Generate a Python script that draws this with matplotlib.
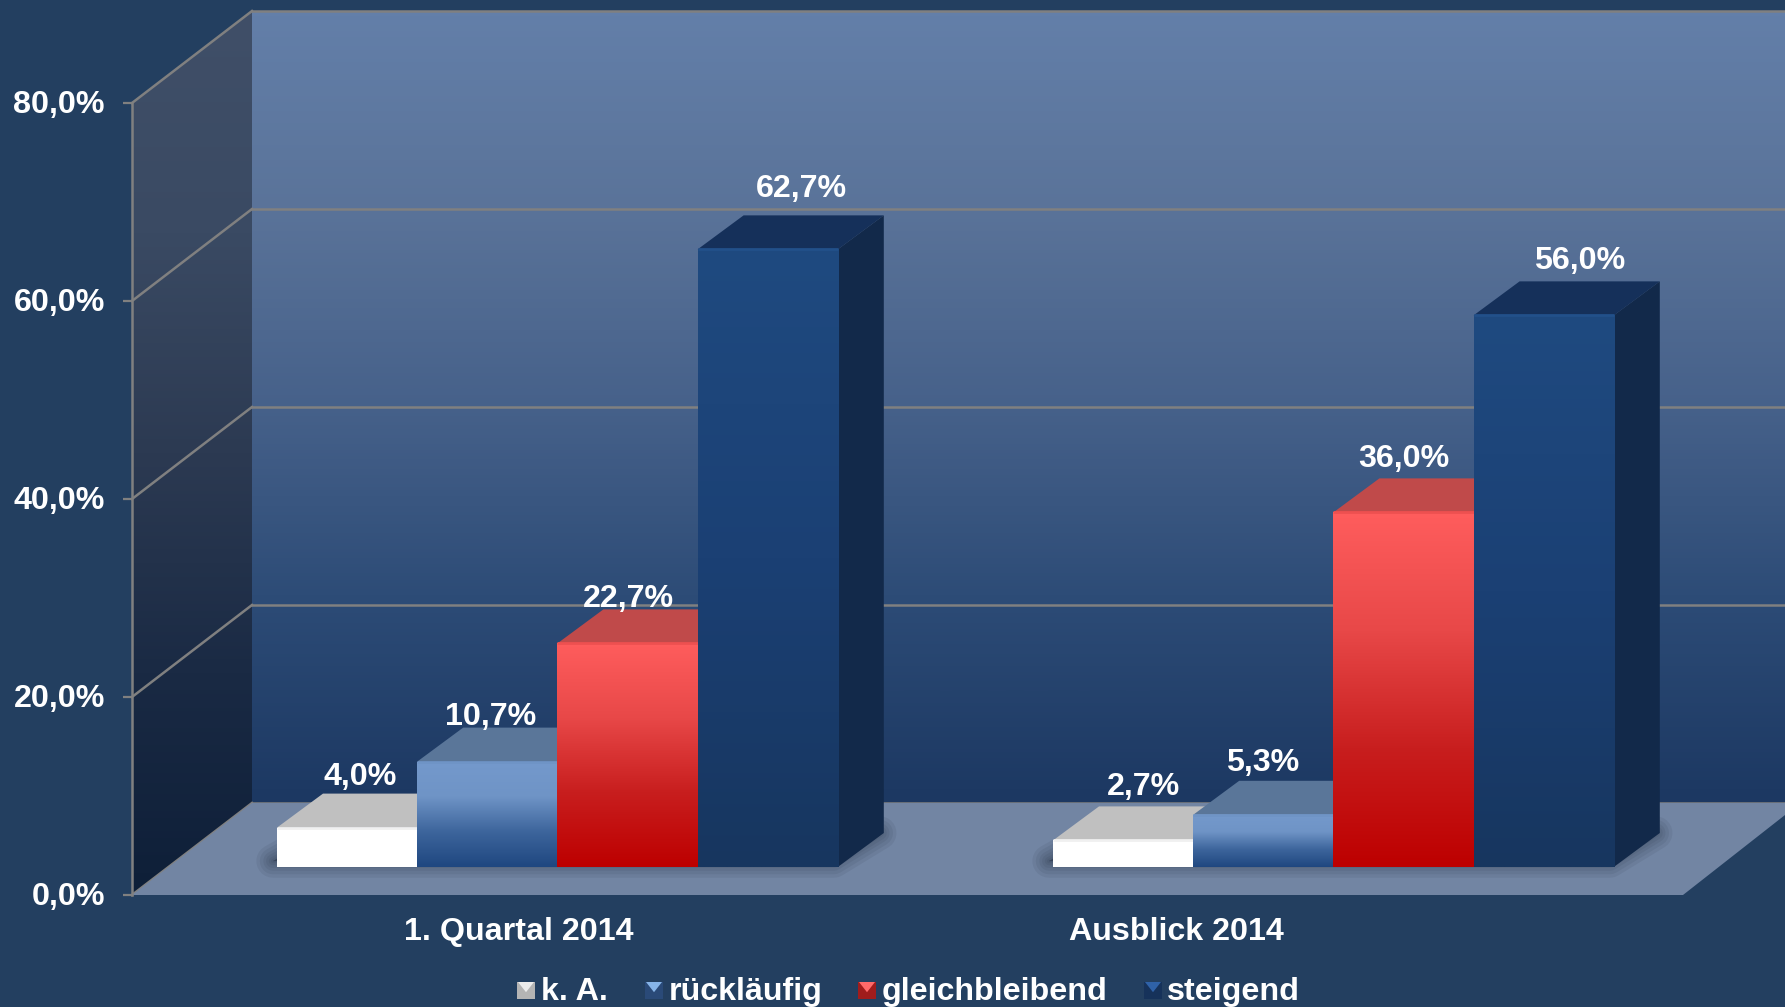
import numpy as np
import matplotlib
matplotlib.use('Agg')
import matplotlib.pyplot as plt
from matplotlib.colors import LinearSegmentedColormap
from matplotlib.patches import Polygon
from matplotlib.transforms import ScaledTranslation

plt.rcParams['font.family'] = ['Liberation Sans', 'DejaVu Sans']
plt.rcParams['font.weight'] = 'bold'

categories = ['1. Quartal 2014', 'Ausblick 2014']
series = ['k. A.', 'rückläufig', 'gleichbleibend', 'steigend']
ka = [4.0, 2.7]
ruecklaeufig = [10.7, 5.3]
gleichbleibend = [22.7, 36.0]
steigend = [62.7, 56.0]
yticks = [0, 20, 40, 60, 80]
ytick_labels = ['0,0%', '20,0%', '40,0%', '60,0%', '80,0%']

BG = '#233f60'
W, H = 1785, 1007
PX = 9.9        # pixels per percent
Y0 = 895        # pixel row of the 0 % tick


def yp(row):
    return (Y0 - row) / PX


def fmt(v):
    return f'{v:.1f}'.replace('.', ',') + '%'


fig = plt.figure(figsize=(W / 100, H / 100), dpi=100, facecolor=BG)
ax = fig.add_axes([0, 0, 1, 1], facecolor=BG)
xlim = (0, W)
ylim = (yp(H), yp(0))


def gradient(patch, stops, extent, zorder=2):
    cmap = LinearSegmentedColormap.from_list('g', stops)
    im = ax.imshow(np.linspace(0, 1, 256)[:, None], cmap=cmap, extent=extent,
                   aspect='auto', origin='upper', zorder=zorder, interpolation='bilinear')
    im.set_clip_path(patch)
    return im


# walls and floor
wall_dx, wall_dy = 120, yp(803)
wall_x = 132 + wall_dx
back = Polygon([(wall_x, wall_dy), (W, wall_dy), (W, 80 + wall_dy), (wall_x, 80 + wall_dy)],
               fc='#1c3862', ec='none', zorder=2)
ax.add_patch(back)
gradient(back, ['#637fa9', '#5a7399', '#46618a', '#2c4b76', '#1c3862'],
         (wall_x, W, wall_dy, 80 + wall_dy))
side = Polygon([(132, 0), (wall_x, wall_dy), (wall_x, 80 + wall_dy), (132, 80)],
               fc='#0e1f38', ec='none', zorder=2)
ax.add_patch(side)
gradient(side, ['#404f68', '#3a4a63', '#2c3a52', '#1a2a44', '#0e1f38'],
         (132, wall_x, 0, 80 + wall_dy))

for t in yticks:
    ax.plot([wall_x, W], [t + wall_dy, t + wall_dy], color='#808080', lw=1.8, zorder=2)
    ax.plot([132, wall_x], [t, t + wall_dy], color='#808080', lw=1.8, zorder=2)

floor = Polygon([(132, 0), (wall_x, wall_dy), (W, wall_dy), (W, yp(815)), (1683, 0)],
                fc='#7285a3', ec='none', zorder=2)
ax.add_patch(floor)

# bars stand a little further back, so they scale slightly smaller than the ticks
bar_w = 140.2
base = yp(867)
bar_scale = 0.995
dep_x, dep_y = 46, 34 / PX
group_x = [277, 1053]
faces = [
    dict(stops=['#ffffff', '#ffffff'], top='#c0c0c0', side='#a0a0a0', edge='#f0f0f0'),
    dict(stops=['#7499cc', '#6f94c6', '#3d659c', '#1f4780'], top='#5a7699', side='#2a4a78', edge='#6f94c6'),
    dict(stops=['#ff5d5d', '#e84848', '#c81e1e', '#bd0000'], top='#c04a4a', side='#8a2020', edge='#ee5050'),
    dict(stops=['#1f4a80', '#1b4074', '#17365f'], top='#15305a', side='#12294a', edge='#22508a'),
]
values = [ka, ruecklaeufig, gleichbleibend, steigend]

for g, gx in enumerate(group_x):
    # soft shadow below the bars
    n = len(series)
    shadow = [(gx - 4, base + 0.6), (gx + n * bar_w - 4, base + 0.6),
              (gx + n * bar_w + dep_x - 4, base + dep_y), (gx + dep_x, base + dep_y)]
    for lw in [24, 19, 14, 10, 6, 3]:
        s = Polygon(shadow, fc='#1a2436', ec='#1a2436', lw=lw, alpha=0.08,
                    joinstyle='round', zorder=2)
        ax.add_patch(s)
        s.set_clip_path(floor)

    for i, vals in enumerate(values):
        v = vals[g] * bar_scale
        x0 = gx + i * bar_w
        x1 = x0 + bar_w
        top_y = base + v
        ax.add_patch(Polygon([(x0, top_y), (x1, top_y), (x1 + dep_x, top_y + dep_y), (x0 + dep_x, top_y + dep_y)],
                             fc=faces[i]['top'], ec='none', zorder=2))
        ax.add_patch(Polygon([(x1, base), (x1 + dep_x, base + dep_y), (x1 + dep_x, top_y + dep_y), (x1, top_y)],
                             fc=faces[i]['side'], ec='none', zorder=2))
        rect = ax.bar(x0, v, width=bar_w, bottom=base, align='edge', color=faces[i]['stops'][-1],
                      edgecolor='none', zorder=2)[0]
        gradient(rect, faces[i]['stops'], (x0, x1, base, top_y))
        ax.plot([x0, x1], [top_y, top_y], color=faces[i]['edge'], lw=2, zorder=2, solid_capstyle='butt')

# data labels, pixel position of each label centre
label_x = [[360, 491, 628, 801], [1143, 1263, 1404, 1580]]
label_row = [[774, 714, 596, 186], [783, 760, 456, 258]]
for g in range(len(categories)):
    for i, vals in enumerate(values):
        ax.text(label_x[g][i], yp(label_row[g][i]), fmt(vals[g]), color='white', fontsize=23.2,
                ha='center', va='center_baseline', zorder=5)

# axis
for name in ['top', 'right', 'bottom']:
    ax.spines[name].set_visible(False)
ax.spines['left'].set_position(('data', 132))
ax.spines['left'].set_bounds(0, 80)
ax.spines['left'].set_color('#808080')
ax.spines['left'].set_linewidth(1.8)
ax.set_yticks(yticks)
ax.set_yticklabels(ytick_labels)
ax.tick_params(axis='y', colors='#808080', length=6.5, width=1.6, pad=13, labelsize=23.2, labelcolor='white')
nudge = ScaledTranslation(0, -2 / 100, fig.dpi_scale_trans)
for lbl in ax.get_yticklabels():
    lbl.set_va('center')
    lbl.set_transform(lbl.get_transform() + nudge)
ax.spines['bottom'].set_position(('data', 0))
ax.set_xticks([519, 1176])
ax.set_xticklabels(categories)
ax.tick_params(axis='x', length=0, pad=15.5, labelsize=23.2, labelcolor='white')

# legend
key_x = [517, 645, 858, 1144]
text_x = [541, 669, 882, 1167]
key_cols = [('#b4b4b4', '#ececec'), ('#2a4a78', '#86b4e8'), ('#a01c1c', '#ff6a6a'), ('#16325a', '#2f62a8')]
key_w, key_h = 18, 17
key_row = 982
for name, kx, tx, (dark, light) in zip(series, key_x, text_x, key_cols):
    ax.add_patch(Polygon([(kx, yp(key_row)), (kx + key_w, yp(key_row)),
                          (kx + key_w, yp(key_row + key_h)), (kx, yp(key_row + key_h))],
                         fc=dark, ec='none', zorder=4))
    ax.add_patch(Polygon([(kx + 1, yp(key_row)), (kx + key_w - 1, yp(key_row)), (kx + key_w / 2, yp(key_row + key_h * 0.6))],
                         fc=light, ec='none', zorder=4))
    ax.text(tx, yp(1000), name, color='white', fontsize=23.2, ha='left', va='baseline', zorder=5)

ax.set_xlim(xlim)
ax.set_ylim(ylim)
fig.savefig('out.png', dpi=100, facecolor=BG)
